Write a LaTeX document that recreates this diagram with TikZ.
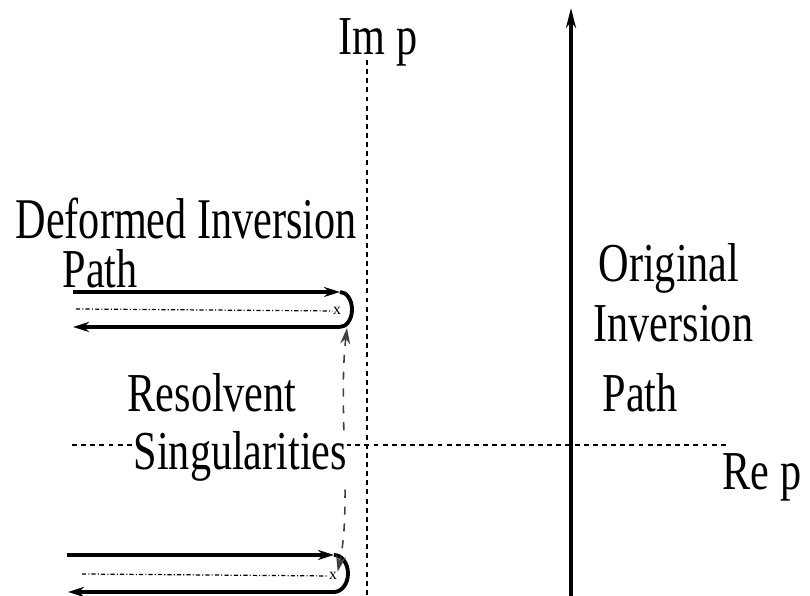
\documentclass[tikz,border=0pt]{standalone}
\usepackage{fontspec}
\setmainfont{Liberation Serif}
\usetikzlibrary{arrows.meta}
\newcommand{\narrow}[2][1]{\scalebox{0.77}[#1]{#2}}

\begin{document}
\begin{tikzpicture}[>={Stealth[length=1.6mm,width=1mm]},
every node/.style={inner sep=0pt},
caption/.style={anchor=base west,font=\fontsize{15.6}{18}\selectfont},
axis/.style={line width=0.35pt,dash pattern=on 1.4pt off 1.2pt},
contour/.style={line width=1.1pt},
cut/.style={line width=0.35pt,dash pattern=on 1.2pt off 0.6pt on 0.3pt off 0.6pt},
sing/.style={line width=0.45pt,black!75,dash pattern=on 2.3pt off 2.5pt},
pole/.style={font=\fontsize{4.5}{5}\selectfont}]
\useasboundingbox (0,0) rectangle (8.1,5.96);
% axes
\coordinate (ImTop) at (3.67,5.36);
\coordinate (ImBot) at (3.67,0);
\coordinate (ReLeft) at (0.72,1.51);
\coordinate (ReRight) at (7.28,1.51);
\draw[axis] (ImTop) -- (ImBot);
\draw[axis] (ReLeft) -- (ReRight);
% original inversion path
\coordinate (OrigBot) at (5.71,0);
\coordinate (OrigTop) at (5.71,5.88);
\draw[line width=1.1pt,-{Stealth[length=2mm,width=1mm]}] (OrigBot) -- (OrigTop);

% upper loop round the cut
\coordinate (UpIn) at (0.73,3.04);
\coordinate (UpTurn) at (3.40,3.04);
\coordinate (UpBack) at (3.40,2.69);
\coordinate (UpOut) at (0.73,2.69);
\coordinate (UpCut) at (0.76,2.87);
\node[pole] (PoleUp) at (3.37,2.85) {x};
\draw[cut] (UpCut) -- (PoleUp.west);
\draw[contour,->] (UpIn) -- (UpTurn);
\draw[contour] (UpTurn) arc[start angle=90,end angle=-90,x radius=0.12,y radius=0.175];
\draw[contour,->] (UpBack) -- (UpOut);

% lower loop round the cut
\coordinate (LoIn) at (0.67,0.41);
\coordinate (LoTurn) at (3.34,0.41);
\coordinate (LoBack) at (3.34,0.04);
\coordinate (LoOut) at (0.68,0.04);
\coordinate (LoCut) at (0.82,0.22);
\node[pole] (PoleLo) at (3.33,0.20) {x};
\draw[cut] (LoCut) -- (PoleLo.west);
\draw[contour,->] (LoIn) -- (LoTurn);
\draw[contour] (LoTurn) arc[start angle=90,end angle=-90,x radius=0.14,y radius=0.185];
\draw[contour,->] (LoBack) -- (LoOut);

% resolvent singularities
\coordinate (SingTop) at (3.47,2.68);
\draw[sing,<->] (SingTop) .. controls (3.38,1.9) and (3.52,0.9) .. (PoleLo.north east);

% labels
\node[caption] (Deformed) at (0.15,3.57) {\narrow[1.05]{Deformed Inversion}};
\node[caption] (DefPath) at (0.62,3.08) {\narrow{Path}};
\node[caption] (Resolvent) at (1.27,1.84) {\narrow{Resolvent}};
\node[caption,fill=white] (Singular) at (1.33,1.26) {\narrow{Singularities}};
\node[caption] (Original) at (5.98,3.14) {\narrow{Original}};
\node[caption] (Inversion) at (5.93,2.54) {\narrow{Inversion}};
\node[caption] (OrigPath) at (6.02,1.84) {\narrow{Path}};
\node[caption] (ImLabel) at (3.38,5.41) {\narrow{Im p}};
\node[caption] (ReLabel) at (7.22,1.06) {\narrow{Re p}};
\end{tikzpicture}
\end{document}
